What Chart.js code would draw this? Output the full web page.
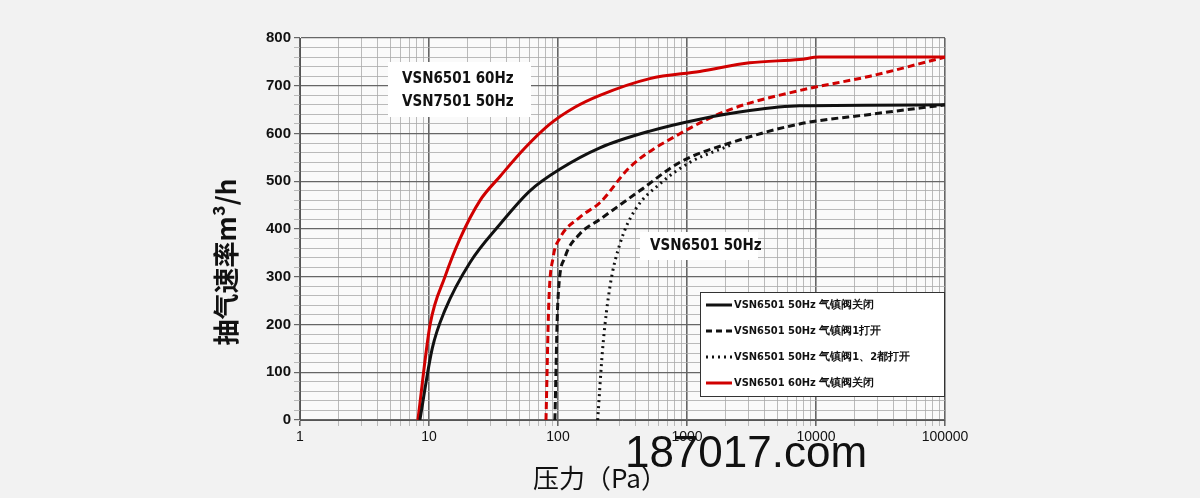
<!DOCTYPE html>
<html>
<head>
<meta charset="utf-8">
<script src="https://cdn.jsdelivr.net/npm/chart.js@4/dist/chart.umd.min.js"></script>
<style>
  html, body { margin: 0; padding: 0; background: #f2f2f2; }
  #wrap { width: 1200px; height: 498px; }
</style>
</head>
<body>
<div id="wrap"><canvas id="chartPump"></canvas></div>
<script>
// Pressure (Pa) / flow (m3/h) points
const red60Closed = {
    p: [8.2, 10.2, 13.3, 17.4, 24.9, 35.5, 55.6, 86.8, 135, 211, 515, 1256, 3060, 7460, 10600, 100000],
    q: [0, 200, 300, 380, 460, 510, 570, 620, 655, 680, 715, 730, 748, 755, 760, 760],
};
const black50Closed = {
    p: [8.5, 10.6, 13.3, 20.8, 35.5, 60.6, 103, 211, 515, 1256, 3060, 7460, 100000],
    q: [0, 150, 230, 330, 410, 480, 525, 570, 605, 630, 648, 658, 660],
};
const red60Valve1 = {
    p: [80.7, 85, 91.6, 103, 148, 211, 362, 886, 2150, 7460, 26200, 100000],
    q: [0, 250, 340, 380, 425, 455, 530, 600, 650, 690, 720, 760],
};
const black50Valve1 = {
    p: [94.6, 99.8, 113, 148, 211, 430, 886, 2150, 7460, 26200, 100000],
    q: [0, 250, 340, 390, 420, 480, 540, 580, 620, 640, 660],
};
const black50Valve12 = {
    p: [203, 222, 253, 303, 396, 620, 1060, 2150],
    q: [0, 150, 280, 370, 440, 495, 540, 575],
};

const xTicks = [1, 2, 3, 4, 5, 6, 7, 8, 9, 10, 20, 30, 40, 50, 60, 70, 80, 90,
    100, 200, 300, 400, 500, 600, 700, 800, 900, 1000, 2000, 3000, 4000, 5000, 6000, 7000, 8000, 9000,
    10000, 20000, 30000, 40000, 50000, 60000, 70000, 80000, 90000, 100000];

const legendLabels = [
    "VSN6501 50Hz 气镇阀关闭",
    "VSN6501 50Hz 气镇阀1打开",
    "VSN6501 50Hz 气镇阀1、2都打开",
    "VSN6501 60Hz 气镇阀关闭",
];
const noteTop = ["VSN6501 60Hz", "VSN7501 50Hz"];
const noteMid = "VSN6501 50Hz";
const xTitle = "压力（Pa）";
const yTitle = "抽气速率m³/h";
const watermark = "187017.com";

const toPts = (s) => s.p.map((p, i) => ({ x: p, y: s.q[i] }));

const isDecade = (v) => Math.abs(Math.log10(v) - Math.round(Math.log10(v))) < 1e-6;

const extras = {
    id: "extras",
    afterDatasetsDraw(chart) {
        const { ctx } = chart;
        ctx.save();
        ctx.font = "bold 15px 'Liberation Sans Narrow', 'DejaVu Sans Condensed', sans-serif";
        ctx.textBaseline = "middle";
        // top-left note
        ctx.fillStyle = "#fff";
        ctx.fillRect(388, 62, 143, 55);
        ctx.fillStyle = "#111";
        ctx.fillText(noteTop[0], 402, 79);
        ctx.fillText(noteTop[1], 402, 102);
        // middle note
        ctx.fillStyle = "#fff";
        ctx.fillRect(640, 232, 118, 28);
        ctx.fillStyle = "#111";
        ctx.fillText(noteMid, 650, 246);
        // legend
        ctx.fillStyle = "#fff";
        ctx.fillRect(700, 292, 244, 104);
        ctx.strokeStyle = "#333";
        ctx.lineWidth = 1;
        ctx.strokeRect(700.5, 292.5, 244, 104);
        const styles = [
            { c: "#111", d: [] }, { c: "#111", d: [6, 4] },
            { c: "#111", d: [2, 4] }, { c: "#d00000", d: [] },
        ];
        ctx.font = "bold 11px 'Liberation Sans Narrow', 'DejaVu Sans Condensed', sans-serif";
        legendLabels.forEach((t, i) => {
            const y = 305 + i * 26;
            ctx.beginPath();
            ctx.setLineDash(styles[i].d);
            ctx.strokeStyle = styles[i].c;
            ctx.lineWidth = 3;
            ctx.moveTo(706, y);
            ctx.lineTo(732, y);
            ctx.stroke();
            ctx.setLineDash([]);
            ctx.fillStyle = "#111";
            ctx.fillText(t, 734, y);
        });
        // axis titles
        ctx.fillStyle = "#111";
        ctx.font = "bold 26px 'Noto Sans CJK SC', sans-serif";
        ctx.textAlign = "center";
        ctx.save();
        ctx.translate(226, 262);
        ctx.rotate(-Math.PI / 2);
        ctx.fillText(yTitle, 0, 0);
        ctx.restore();
        ctx.font = "26px 'Noto Sans CJK SC', sans-serif";
        ctx.fillText(xTitle, 600, 478);
        // watermark
        ctx.font = "44px 'Liberation Sans', sans-serif";
        ctx.fillText(watermark, 746, 455);
        ctx.restore();
    },
};

const mk = (label, s, color, dash) => ({
    label, data: toPts(s), borderColor: color, borderWidth: 3,
    borderDash: dash, pointRadius: 0, cubicInterpolationMode: "monotone", fill: false,
});

new Chart(document.getElementById("chartPump"), {
    type: "line",
    data: {
        datasets: [
            mk(legendLabels[0], black50Closed, "#111", []),
            mk(legendLabels[1], black50Valve1, "#111", [7, 4]),
            mk(legendLabels[2], black50Valve12, "#111", [2, 4]),
            mk(legendLabels[3], red60Closed, "#d00000", []),
            mk("60Hz valve1", red60Valve1, "#d00000", [7, 4]),
        ],
    },
    options: {
        responsive: true,
        maintainAspectRatio: false,
        animation: false,
        layout: { padding: { left: 200, right: 255, top: 38, bottom: 0 } },
        plugins: { legend: { display: false }, tooltip: { enabled: false } },
        scales: {
            x: {
                type: "logarithmic", min: 1, max: 100000,
                afterBuildTicks: (s) => { s.ticks = xTicks.map((v) => ({ value: v })); },
                afterFit: (s) => { s.height = 78; },
                border: { color: "#555" },
                grid: {
                    color: (c) => isDecade(c.tick.value) ? "#666" : "#aaa",
                    lineWidth: (c) => isDecade(c.tick.value) ? 1.6 : 0.8,
                    tickLength: 6,
                },
                ticks: {
                    autoSkip: false, maxRotation: 0, color: "#111",
                    font: { size: 14, family: "'Liberation Sans Narrow', sans-serif" },
                    callback: (v) => isDecade(v) ? String(v) : "",
                },
            },
            y: {
                min: 0, max: 800,
                afterFit: (s) => { s.width = 100; },
                border: { color: "#555" },
                grid: {
                    color: (c) => c.tick.value % 100 === 0 ? "#666" : "#aaa",
                    lineWidth: (c) => c.tick.value % 100 === 0 ? 1.2 : 0.8,
                    tickLength: 6,
                },
                ticks: {
                    stepSize: 20, autoSkip: false, color: "#111",
                    font: { size: 15, weight: "bold", family: "'Liberation Sans Narrow', sans-serif" },
                    callback: (v) => v % 100 === 0 ? String(v) : "",
                },
            },
        },
    },
    plugins: [{
        id: "plotBg",
        beforeDraw(chart) {
            const { ctx, chartArea: a } = chart;
            ctx.save();
            ctx.fillStyle = "#fafafa";
            ctx.fillRect(a.left, a.top, a.right - a.left, a.bottom - a.top);
            ctx.restore();
        },
    }, extras],
});
</script>
</body>
</html>
